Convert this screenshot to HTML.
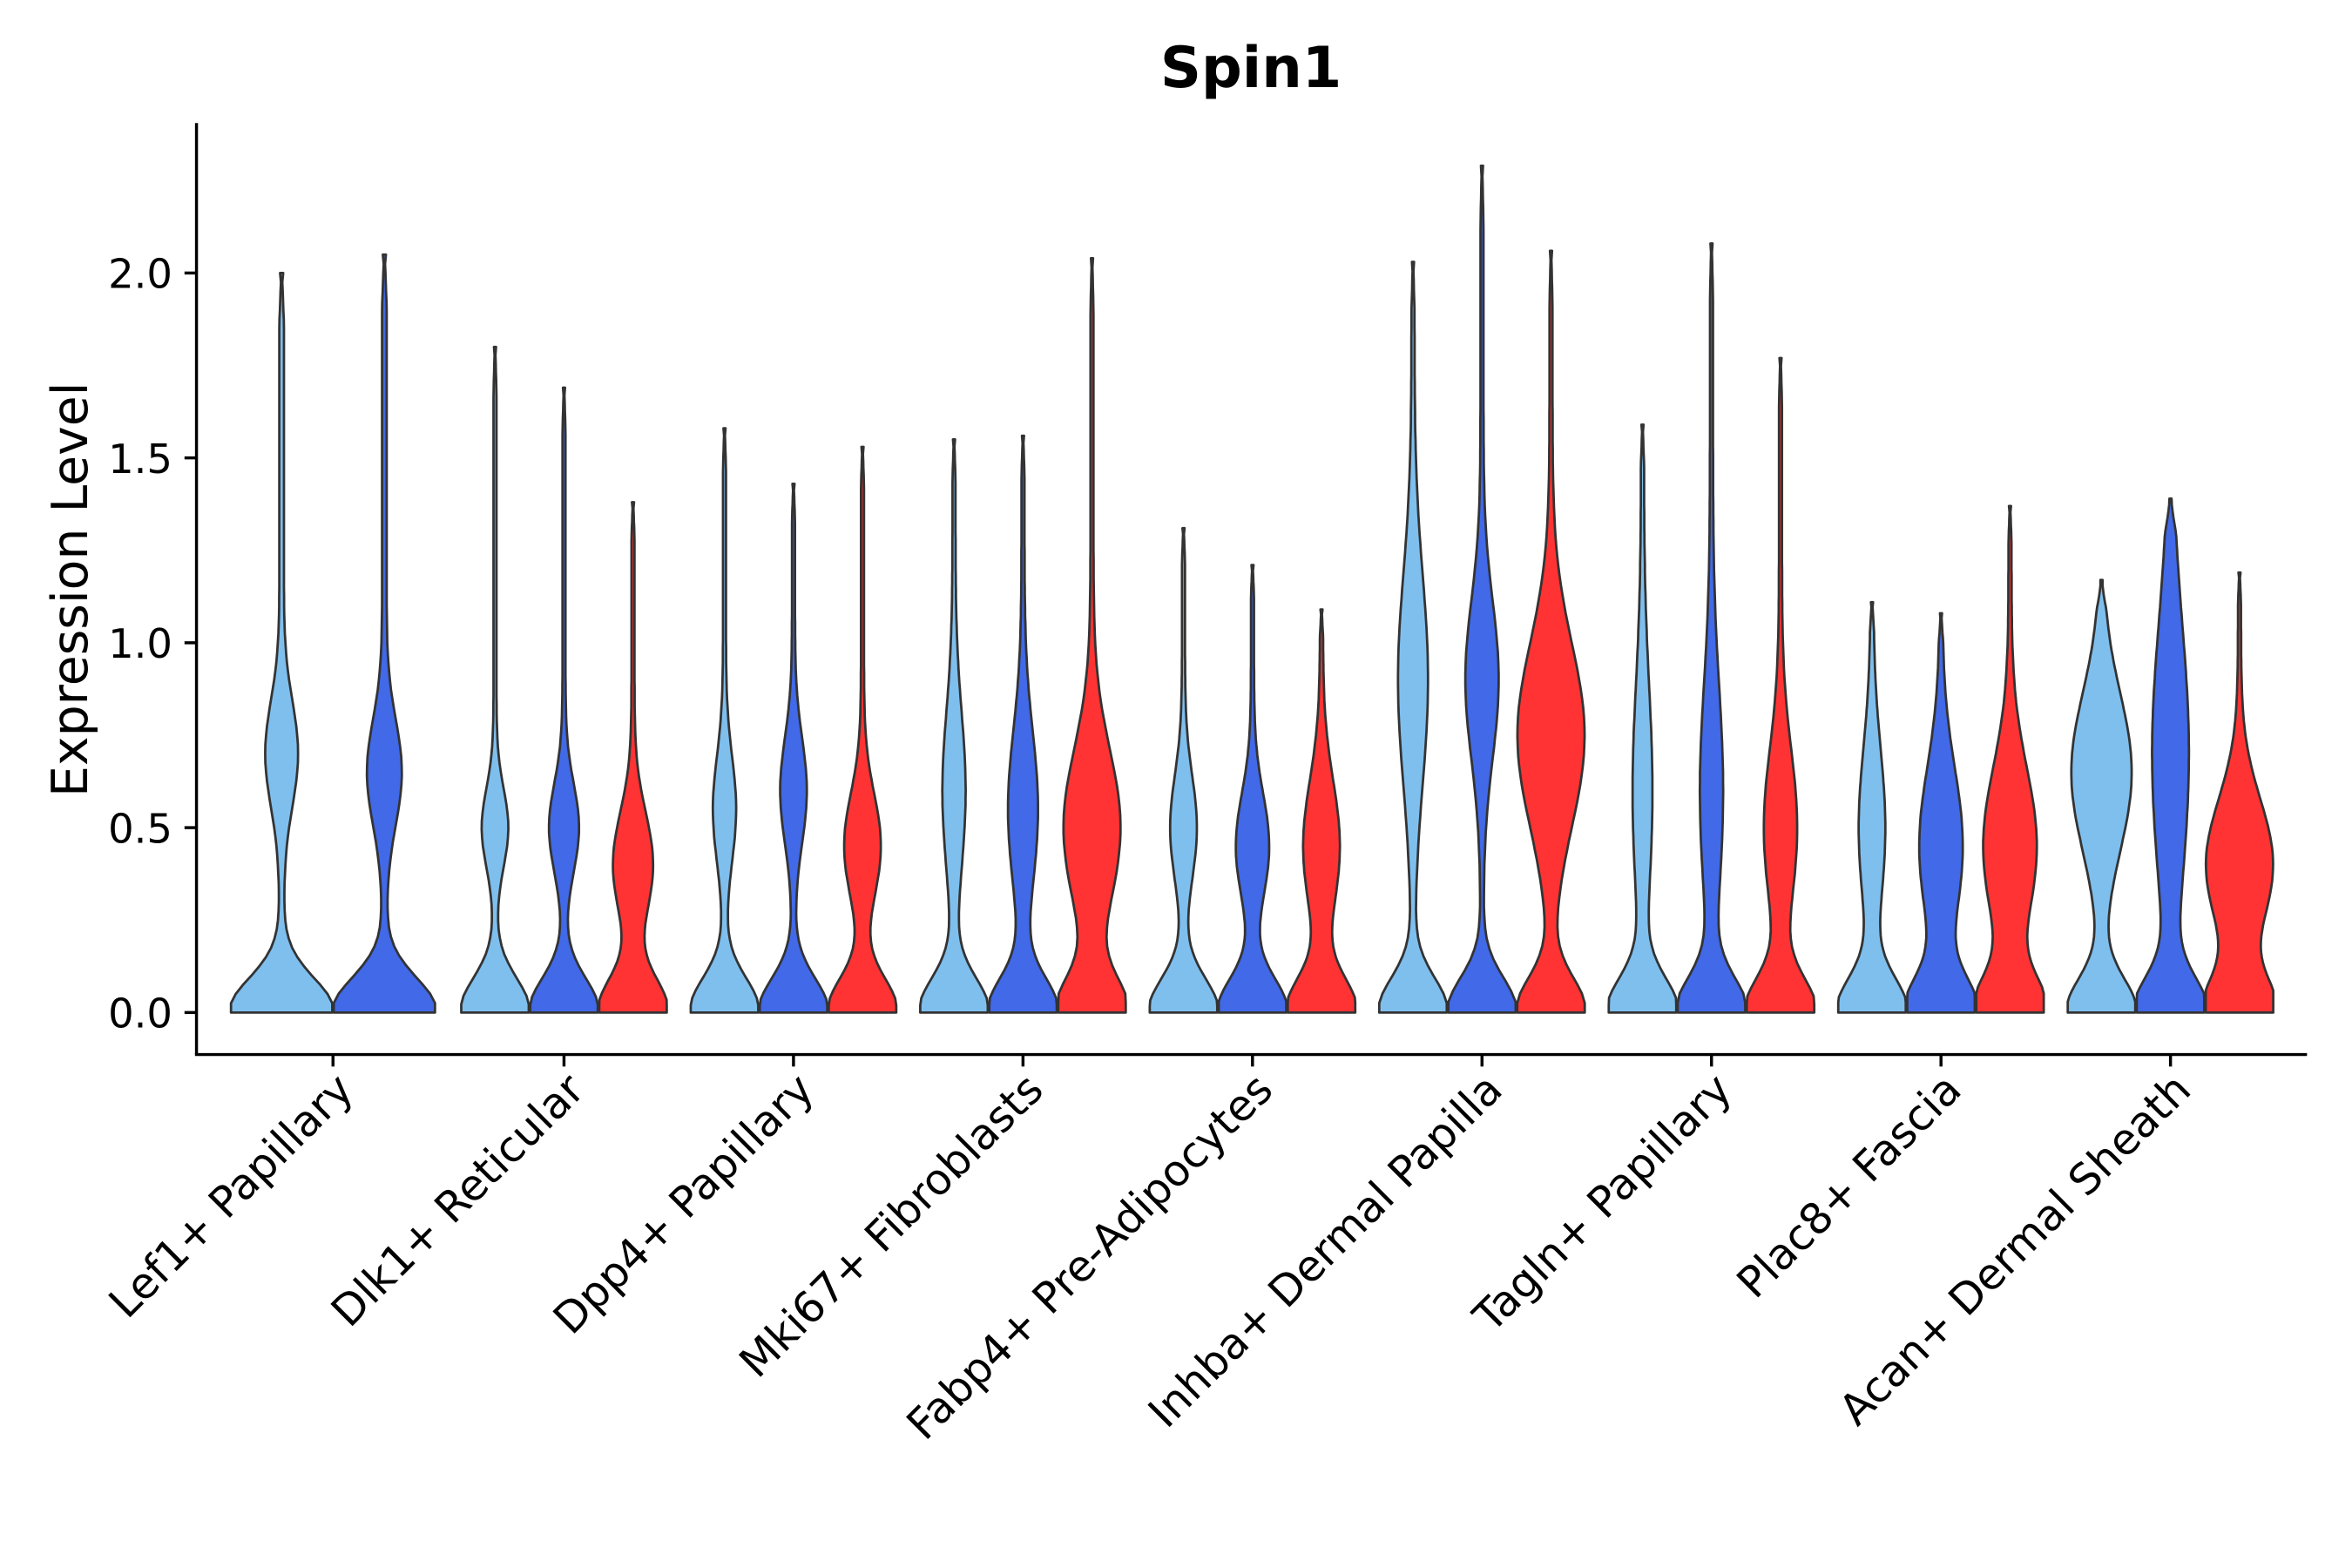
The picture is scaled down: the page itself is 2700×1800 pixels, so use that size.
<!DOCTYPE html>
<html><head><meta charset="utf-8"><style>
html,body{margin:0;padding:0;background:#fff;}
svg{display:block;}
text{font-family:"DejaVu Sans","Liberation Sans",sans-serif;fill:#000;}
</style></head><body>
<svg id="s" width="2700" height="1800" viewBox="0 0 1568 1045.3" preserveAspectRatio="none" xmlns="http://www.w3.org/2000/svg">
<rect width="1568" height="1046" fill="#fff"/>
<text x="834" y="58" font-size="38" font-weight="bold" text-anchor="middle">Spin1</text>
<text transform="translate(58,393) rotate(-90)" font-size="33" text-anchor="middle">Expression Level</text>
<g id="v"></g>
<line x1="131" y1="82" x2="131" y2="703" stroke="#000" stroke-width="2"/>
<line x1="130" y1="703" x2="1538" y2="703" stroke="#000" stroke-width="2"/>
<g id="ax"></g>
</svg>
<script>
const Y=v=>675-v*246.5;
const C={l:'#7fbfee',b:'#4169e8',r:'#ff3333'};
const groups=[
 ["Lef1+ Papillary",222,[['l',2.0,0.7,0.28,0.2],['b',2.05,0.65,0.3,0.2]]],
 ["Dlk1+ Reticular",376,[['l',1.8,0.5,0.35,0.15],['b',1.69,0.5,0.4,0.17],['r',1.38,0.4,0.55,0.2]]],
 ["Dpp4+ Papillary",529,[['l',1.58,0.55,0.3,0.2],['b',1.43,0.6,0.35,0.2],['r',1.53,0.45,0.5,0.2]]],
 ["Mki67+ Fibroblasts",682,[['l',1.55,0.6,0.3,0.3],['b',1.56,0.55,0.4,0.3],['r',2.04,0.5,0.8,0.3]]],
 ["Fabp4+ Pre-Adipocytes",835,[['l',1.31,0.5,0.35,0.2],['b',1.21,0.45,0.45,0.2],['r',1.09,0.45,0.5,0.25]]],
 ["Inhba+ Dermal Papilla",988,[['l',2.03,0.9,0.4,0.4],['b',2.29,0.9,0.45,0.3],['r',2.06,0.75,0.95,0.35]]],
 ["Tagln+ Papillary",1141,[['l',1.59,0.6,0.25,0.4],['b',2.08,0.6,0.3,0.4],['r',1.77,0.5,0.45,0.3]]],
 ["Plac8+ Fascia",1294,[['l',1.11,0.5,0.35,0.3],['b',1.08,0.45,0.6,0.3],['r',1.37,0.45,0.75,0.3]]],
 ["Acan+ Dermal Sheath",1447,[['l',1.17,0.65,0.85,0.3],['b',1.39,0.7,0.5,0.5],['r',1.19,0.4,0.95,0.25]]]
];
let vs='',ax='';
groups.forEach(([name,cx,vl])=>{
 const n=vl.length, w=n==2?68.5:46, x0=cx-n*w/2;
 vl.forEach(([c,mx,mu,a,s],i)=>{
  const xc=x0+w*i+w/2, W=w/2-0.5, N=80;
  let L=[],R=[];
  for(let k=0;k<=N;k++){
   const v=mx*k/N;
   let h=Math.exp(-Math.pow(v/0.13,2))+a*Math.exp(-Math.pow((v-mu)/s,2))+0.045;
   h=Math.min(h,1);
   const taper=Math.min(1,(mx-v)/(0.08*mx)+0.15);
   h*=Math.max(taper,0.05);
   if(k==N)h=0.03;
   R.push([xc+h*W,Y(v)]);L.push([xc-h*W,Y(v)]);
  }
  let d='M'+L.map(p=>p[0].toFixed(1)+','+p[1].toFixed(1)).join('L');
  d+='L'+R.reverse().map(p=>p[0].toFixed(1)+','+p[1].toFixed(1)).join('L')+'Z';
  vs+=`<path d="${d}" fill="${C[c]}" stroke="#333" stroke-width="1.6" stroke-linejoin="round"/>`;
 });
 ax+=`<line x1="${cx}" y1="703" x2="${cx}" y2="711" stroke="#000" stroke-width="2"/>`;
 ax+=`<text transform="translate(${cx+15},728) rotate(-45)" font-size="28.5" text-anchor="end">${name}</text>`;
});
['0.0','0.5','1.0','1.5','2.0'].forEach(t=>{
 const y=Y(+t);
 ax+=`<line x1="123" y1="${y}" x2="131" y2="${y}" stroke="#000" stroke-width="2"/>`;
 ax+=`<text x="115" y="${y+10}" font-size="27" text-anchor="end">${t}</text>`;
});
document.getElementById('v').innerHTML=vs;
document.getElementById('ax').innerHTML=ax;
</script>
</body></html>
